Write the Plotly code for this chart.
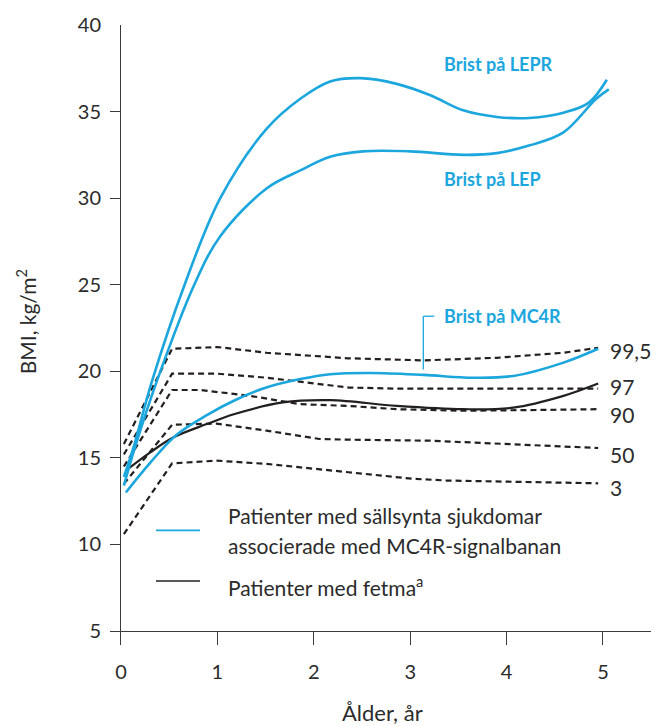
import plotly.graph_objects as go

# ---------------- data ----------------
lepr_x = [0.03, 0.13, 0.32, 0.66, 1.03, 1.51, 1.86, 2.17, 2.48, 2.86, 3.21, 3.55, 3.90, 4.24, 4.60, 4.85, 5.04]
lepr_y = [13.9, 15.6, 19.4, 25.0, 30.0, 34.0, 35.74, 36.74, 36.93, 36.6, 35.94, 35.07, 34.69, 34.63, 34.95, 35.5, 36.84]

lep_x = [0.03, 0.145, 0.37, 0.76, 1.03, 1.51, 1.86, 2.17, 2.51, 3.0, 3.55, 3.90, 4.24, 4.59, 4.93, 5.06]
lep_y = [13.4, 15.6, 19.4, 25.0, 27.8, 30.56, 31.6, 32.39, 32.7, 32.7, 32.5, 32.6, 33.05, 33.8, 35.74, 36.28]

mc4r_x = [0.05, 0.30, 0.58, 0.90, 1.17, 1.50, 1.86, 2.17, 2.60, 3.14, 3.65, 4.07, 4.59, 4.95]
mc4r_y = [13.0, 14.7, 16.35, 17.5, 18.3, 19.05, 19.55, 19.83, 19.9, 19.79, 19.63, 19.73, 20.5, 21.3]

obese_x = [0.05, 0.30, 0.55, 0.89, 1.17, 1.68, 2.17, 2.86, 3.55, 4.07, 4.59, 4.95]
obese_y = [14.26, 15.3, 16.2, 16.95, 17.52, 18.2, 18.33, 18.0, 17.81, 17.9, 18.58, 19.29]

p995_x = [0.03, 0.53, 1.00, 1.51, 2.36, 3.14, 3.90, 4.59, 4.95]
p995_y = [15.8, 21.3, 21.4, 21.07, 20.75, 20.63, 20.78, 21.07, 21.36]

p97_x = [0.03, 0.53, 1.00, 1.51, 2.36, 2.86, 4.07, 4.95]
p97_y = [15.2, 19.86, 19.86, 19.63, 19.06, 19.0, 19.0, 19.0]

p90_x = [0.03, 0.53, 0.82, 1.34, 1.86, 2.36, 2.86, 3.55, 4.24, 4.95]
p90_y = [14.5, 18.92, 18.92, 18.58, 18.1, 18.0, 17.81, 17.72, 17.76, 17.81]

p50_x = [0.03, 0.53, 0.99, 1.51, 2.06, 2.36, 3.21, 4.24, 4.95]
p50_y = [13.5, 16.91, 16.98, 16.57, 16.09, 16.05, 15.99, 15.76, 15.57]

p3_x = [0.03, 0.53, 0.99, 1.51, 2.36, 3.03, 3.38, 4.24, 4.95]
p3_y = [10.6, 14.68, 14.84, 14.65, 14.17, 13.79, 13.69, 13.59, 13.53]

pct_labels = ["99,5", "97", "90", "50", "3"]
pct_label_y = [21.21, 19.1, 17.53, 15.18, 13.3]

x_ticks = [0, 1, 2, 3, 4, 5]
y_ticks = [5, 10, 15, 20, 25, 30, 35, 40]

BLUE = "#1BA6DE"
BLACK = "#231F20"
TEXT = "#2b2b2b"
FONT = "Lato"

fig = go.Figure()

for xs, ys in [(p995_x, p995_y), (p97_x, p97_y), (p90_x, p90_y), (p50_x, p50_y), (p3_x, p3_y)]:
    fig.add_trace(go.Scatter(x=xs, y=ys, mode="lines",
                             line=dict(color=BLACK, width=2.2, dash="6px,4px"),
                             hoverinfo="skip", showlegend=False))

fig.add_trace(go.Scatter(x=obese_x, y=obese_y, mode="lines",
                         line=dict(color=BLACK, width=2.2, shape="spline", smoothing=1.0),
                         showlegend=False))
for xs, ys in [(lepr_x, lepr_y), (lep_x, lep_y), (mc4r_x, mc4r_y)]:
    fig.add_trace(go.Scatter(x=xs, y=ys, mode="lines",
                             line=dict(color=BLUE, width=2.6, shape="spline", smoothing=1.0),
                             showlegend=False))

annotations = []
for lab, yy in zip(pct_labels, pct_label_y):
    annotations.append(dict(x=5.05, y=yy, xref="x", yref="y", text=lab, showarrow=False,
                            xanchor="left", yanchor="middle",
                            font=dict(family=FONT, size=21, color=TEXT)))

for txt, yy in [("Brist på LEPR", 37.76), ("Brist på LEP", 31.12), ("Brist på MC4R", 23.18)]:
    annotations.append(dict(x=3.33, y=yy, xref="x", yref="y", text="<b>" + txt + "</b>",
                            showarrow=False, xanchor="left", yanchor="middle",
                            font=dict(family=FONT, size=18, color=BLUE)))

# legend texts
annotations.append(dict(x=1.089, y=11.67, xref="x", yref="y", text="Patienter med sällsynta sjukdomar",
                        showarrow=False, xanchor="left", yanchor="middle",
                        font=dict(family=FONT, size=21, color=TEXT)))
annotations.append(dict(x=1.089, y=9.95, xref="x", yref="y", text="associerade med MC4R-signalbanan",
                        showarrow=False, xanchor="left", yanchor="middle",
                        font=dict(family=FONT, size=21, color=TEXT)))
annotations.append(dict(x=1.089, y=7.6, xref="x", yref="y", text="Patienter med fetma<sup>a</sup>",
                        showarrow=False, xanchor="left", yanchor="middle",
                        font=dict(family=FONT, size=21, color=TEXT)))

# axis titles
annotations.append(dict(x=-0.155, y=(631 - 321) / 608.3, xref="paper", yref="paper",
                        text="BMI, kg/m<sup>2</sup>", textangle=-90, showarrow=False,
                        xanchor="center", yanchor="middle",
                        font=dict(family=FONT, size=21, color=TEXT)))
annotations.append(dict(x=(382 - 110) / 541, y=-(713 - 631) / 608.3, xref="paper", yref="paper",
                        text="Ålder, år", showarrow=False, xanchor="center", yanchor="middle",
                        font=dict(family=FONT, size=22, color=TEXT)))

shapes = [
    # leader line for MC4R
    dict(type="line", xref="x", yref="y", x0=3.136, y0=23.18, x1=3.25, y1=23.18,
         line=dict(color=BLUE, width=1.3)),
    dict(type="line", xref="x", yref="y", x0=3.136, y0=23.18, x1=3.136, y1=20.11,
         line=dict(color=BLUE, width=1.3)),
    # legend samples
    dict(type="line", xref="x", yref="y", x0=0.363, y0=10.81, x1=0.82, y1=10.81,
         line=dict(color=BLUE, width=1.6)),
    dict(type="line", xref="x", yref="y", x0=0.363, y0=7.89, x1=0.82, y1=7.89,
         line=dict(color=BLACK, width=1.6)),
]

fig.update_layout(
    width=664, height=726,
    margin=dict(l=110, r=13, t=23, b=95),
    paper_bgcolor="white", plot_bgcolor="white",
    showlegend=False,
    annotations=annotations, shapes=shapes,
    font=dict(family=FONT, color=TEXT),
)

fig.update_xaxes(range=[-0.114, 5.498], tickvals=x_ticks, ticktext=[str(v) for v in x_ticks],
                 showgrid=False, showline=True, linecolor="#3a3a3a", linewidth=1.2,
                 ticks="outside", ticklen=13, tickwidth=1.2, tickcolor="#3a3a3a",
                 zeroline=True, zerolinecolor="#3a3a3a", zerolinewidth=1.2,
                 tickfont=dict(family=FONT, size=20, color=TEXT), ticklabelstandoff=10)
fig.update_yaxes(range=[5, 40], tickvals=y_ticks, ticktext=[str(v) for v in y_ticks],
                 showgrid=False, showline=False, zeroline=False,
                 ticks="inside", ticklen=11, tickwidth=1.2, tickcolor="#3a3a3a",
                 tickfont=dict(family=FONT, size=20, color=TEXT), ticklabelstandoff=8)

fig.write_html("out.html", config={"displayModeBar": False},
               post_script="document.body.style.margin='0';document.body.style.overflow='hidden';")
